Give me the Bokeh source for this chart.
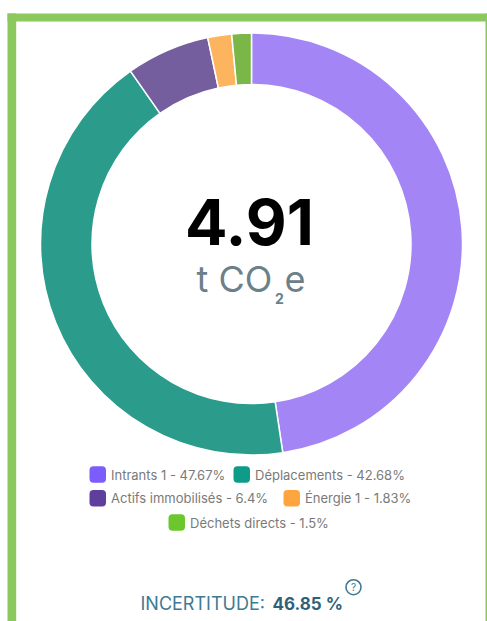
from bokeh.plotting import figure
from bokeh.embed import file_html
from bokeh.resources import INLINE
from bokeh.core.properties import value
from bokeh.models import Range1d, ColumnDataSource
import math

categories = ["Intrants 1", "Déplacements", "Actifs immobilisés", "Énergie 1", "Déchets directs"]
shares = [47.67, 42.68, 6.4, 1.83, 1.5]
share_labels = ["47.67%", "42.68%", "6.4%", "1.83%", "1.5%"]
slice_colors = ["#A385F5", "#2B9C8C", "#745E9E", "#FDB45F", "#7AB648"]
swatch_colors = ["#7C5CFC", "#0E9B88", "#5F3F9E", "#FFA53F", "#6CC72E"]
total_text = "4.91"
unit_text = ["t CO", "2", "e"]
uncertainty_label = "INCERTITUDE:"
uncertainty_value = "46.85 %"

W, H = 487, 621
FONT = "Inter"
def Y(py):
    return 621 - py

p = figure(width=W, height=H, x_range=Range1d(0, 487), y_range=Range1d(0, 621),
           toolbar_location=None, output_backend="svg", min_border=0)
p.axis.visible = False
p.grid.visible = False
p.outline_line_color = None
p.background_fill_color = "white"
p.border_fill_color = "white"

# frame
BORDER = "#8CC95C"
p.quad(left=[7, 7, 485], right=[15.7, 487, 487], top=[Y(13), Y(13), Y(13)], bottom=[0, Y(21), 0],
       fill_color=BORDER, line_color=None)

# donut
cx, cy, r_out, r_in = 251, Y(243.5), 211, 159.5
tot = sum(shares)
starts, ends, acc = [], [], 0.0
for v in shares:
    starts.append(math.pi / 2 - 2 * math.pi * (acc + v) / tot)
    ends.append(math.pi / 2 - 2 * math.pi * acc / tot)
    acc += v
src = ColumnDataSource(dict(start=starts, end=ends, color=slice_colors))
p.annular_wedge(x=cx, y=cy, inner_radius=r_in, outer_radius=r_out, start_angle="start", end_angle="end",
                fill_color="color", line_color="white", line_width=1.5, source=src)

# centre text
p.text(x=[249], y=[Y(221)], text=[total_text], text_font=value(FONT), text_font_style="bold",
       text_font_size="63px", text_color="#000000", text_align="center", text_baseline="middle")
TC = "#6B8088"
p.text(x=[196], y=[Y(278.5)], text=[unit_text[0]], text_font=value(FONT), text_font_size="36px",
       text_color=TC, text_align="left", text_baseline="middle")
p.text(x=[279], y=[Y(298)], text=[unit_text[1]], text_font=value(FONT), text_font_style="bold",
       text_font_size="14px", text_color=TC, text_align="center", text_baseline="middle")
p.text(x=[284], y=[Y(278.5)], text=[unit_text[2]], text_font=value(FONT), text_font_size="36px",
       text_color=TC, text_align="left", text_baseline="middle")

# legend
sw_left = [89, 233, 89, 283, 168]
row_y = [474, 474, 497.7, 497.7, 522]
S = 16.5
p.quad(left=sw_left, right=[a + S for a in sw_left], top=[Y(y - S / 2) for y in row_y],
       bottom=[Y(y + S / 2) for y in row_y], fill_color=swatch_colors, line_color=None, border_radius=4)
legend_text = [f"{c} - {s}" for c, s in zip(categories, share_labels)]
p.text(x=[a + S + 5 for a in sw_left], y=[Y(y) for y in row_y], text=legend_text, text_font=value(FONT),
       text_font_size="13px", text_color="#7A7A7A", text_align="left", text_baseline="middle")

# uncertainty
UC = "#3E7A93"
p.text(x=[140], y=[Y(603)], text=[uncertainty_label], text_font=value(FONT), text_font_size="18px",
       text_color=UC, text_align="left", text_baseline="middle")
p.text(x=[272], y=[Y(603)], text=[uncertainty_value], text_font=value(FONT), text_font_style="bold",
       text_font_size="17px", text_color="#2F6279", text_align="left", text_baseline="middle")
p.scatter(x=[353], y=[Y(586.7)], size=15, marker="circle", fill_color=None, line_color=UC, line_width=1.6)
p.text(x=[353], y=[Y(586.7)], text=["?"], text_font=value(FONT), text_font_size="10px",
       text_color=UC, text_align="center", text_baseline="middle")

open("out.html", "w").write(file_html(p, INLINE))
